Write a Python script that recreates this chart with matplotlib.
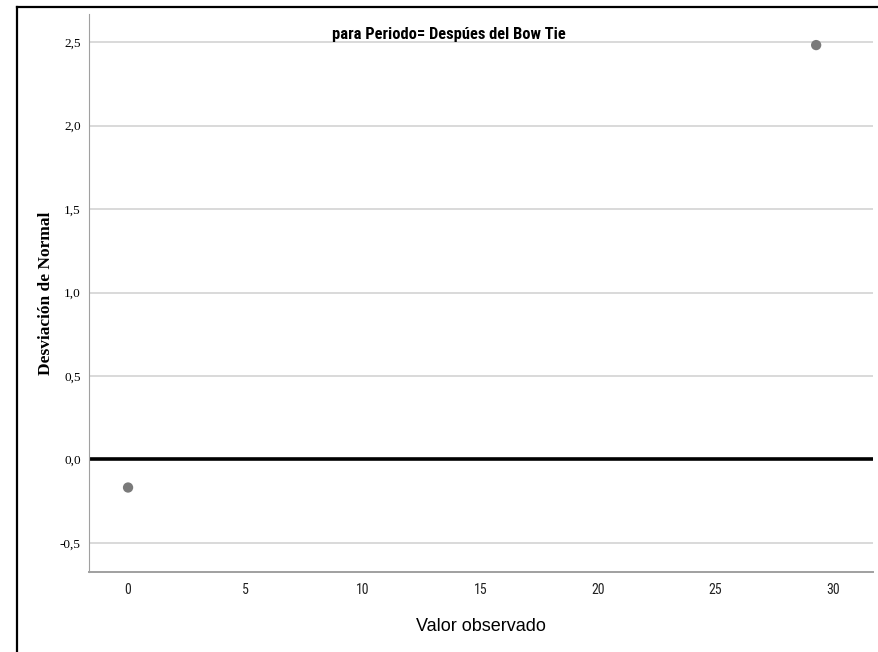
import matplotlib
matplotlib.use("Agg")
import matplotlib.pyplot as plt
from matplotlib.lines import Line2D
from matplotlib.ticker import FuncFormatter
from matplotlib import font_manager

# Data
observed = [0.0, 29.28]
deviation = [-0.168, 2.482]
x_ticks = [0, 5, 10, 15, 20, 25, 30]
y_ticks = [-0.5, 0.0, 0.5, 1.0, 1.5, 2.0, 2.5]
title = "para Periodo= Despúes del Bow Tie"
xlabel = "Valor observado"
ylabel = "Desviación de Normal"

names = {f.name for f in font_manager.fontManager.ttflist}
narrow_name = None
for cand in ["Liberation Sans Narrow", "Roboto Condensed", "DejaVu Sans Condensed"]:
    if cand in names:
        narrow_name = cand
        break
narrow = [narrow_name, "DejaVu Sans"] if narrow_name else ["DejaVu Sans"]
serif = ["Liberation Serif", "DejaVu Serif"]

fig = plt.figure(figsize=(8.79, 6.52), dpi=100)
ax = fig.add_axes([0.1013, 0.1227, 0.8919, 0.8558])

ax.set_xlim(-1.66, 31.7)
ax.set_ylim(-0.674, 2.668)

ax.set_yticks(y_ticks)
ax.set_xticks(x_ticks)
ax.yaxis.set_major_formatter(FuncFormatter(lambda v, p: f"{v:.1f}".replace(".", ",")))
ax.grid(axis="y", color="#cfcfcf", linewidth=1.1)
ax.set_axisbelow(True)
ax.axhline(0.0, color="black", linewidth=2.6, zorder=2)

ax.scatter(observed, deviation, s=55, color="#7a7a7a", zorder=3, edgecolors="none")

for s in ["top", "right"]:
    ax.spines[s].set_visible(False)
ax.spines["left"].set_color("#a0a0a0")
ax.spines["bottom"].set_color("#a0a0a0")
ax.spines["bottom"].set_linewidth(1.4)
ax.tick_params(axis="x", length=0, pad=8)
ax.tick_params(axis="y", length=0, pad=6)

for lab in ax.get_xticklabels():
    lab.set_fontfamily(narrow)
    lab.set_fontstretch("condensed")
    lab.set_fontsize(10)
    lab.set_color("#222222")
for lab in ax.get_yticklabels():
    lab.set_fontfamily(serif)
    lab.set_fontsize(9.5)

ax.set_xlabel(xlabel, fontfamily=["Liberation Sans", "DejaVu Sans"], fontsize=13, labelpad=15)
ax.set_ylabel(ylabel, fontfamily=serif, fontsize=12.5, fontweight="bold", labelpad=4)

fig.text(449/879, 1 - 34/652, title, ha="center", va="center",
         fontfamily=narrow, fontstretch="condensed", fontsize=11.9, fontweight="bold")

# outer border
fig.add_artist(Line2D([17/879, 17/879], [0, 1 - 6.5/652], transform=fig.transFigure, color="black", linewidth=1.6))
fig.add_artist(Line2D([17/879, 1], [1 - 6.5/652, 1 - 6.5/652], transform=fig.transFigure, color="black", linewidth=1.6))

fig.savefig("out.png", dpi=100)
